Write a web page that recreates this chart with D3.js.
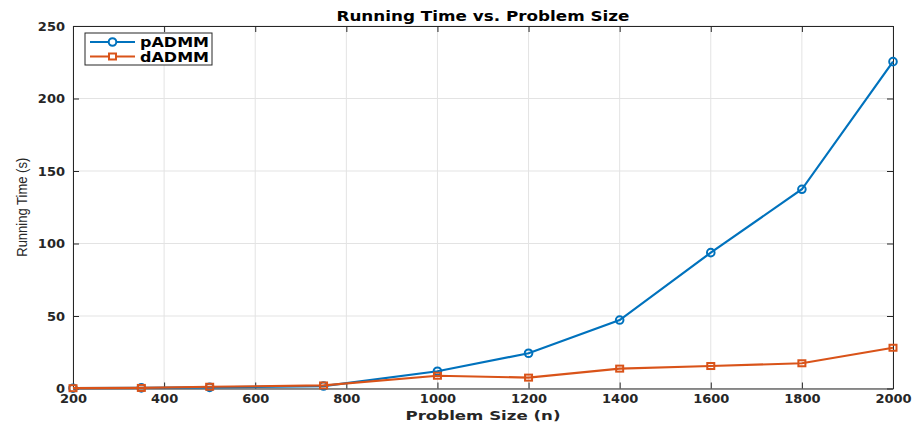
<!DOCTYPE html>
<html>
<head>
<meta charset="utf-8">
<script src="https://cdn.jsdelivr.net/npm/d3@7"></script>
<style>
  body { margin: 0; background: #fff; }
  text { font-family: "DejaVu Sans", "Liberation Sans", sans-serif; }
</style>
</head>
<body>
<div id="chart"></div>
<script>
var w = 914, h = 423;
var margin = { top: 26, right: 21, bottom: 34.5, left: 73 };

// Data
var sizes = [200, 350, 500, 750, 1000, 1200, 1400, 1600, 1800, 2000];
var pADMM = [0.2, 0.4, 0.8, 1.7, 11.9, 24.3, 47.2, 93.7, 137.4, 225.4];
var dADMM = [0.2, 0.4, 1.2, 2.1, 8.8, 7.5, 13.7, 15.5, 17.4, 28.1];
var xTicks = [200, 400, 600, 800, 1000, 1200, 1400, 1600, 1800, 2000];
var yTicks = [0, 50, 100, 150, 200, 250];

var series = [
  { name: "pADMM", values: pADMM, color: "#0072BD", marker: "circle" },
  { name: "dADMM", values: dADMM, color: "#D95319", marker: "square" }
];

var iw = w - margin.left - margin.right,
    ih = h - margin.top - margin.bottom;

var x = d3.scaleLinear().domain([200, 2000]).range([0, iw]);
var y = d3.scaleLinear().domain([0, 250]).range([ih, 0]);

var svg = d3.select("#chart")
  .append("svg")
  .attr("width", w)
  .attr("height", h);

var g = svg.append("g")
  .attr("transform", "translate(" + margin.left + "," + margin.top + ")");

// Grid
g.append("g")
  .selectAll("line")
  .data(xTicks)
  .enter().append("line")
  .attr("x1", function(d) { return x(d); })
  .attr("x2", function(d) { return x(d); })
  .attr("y1", 0).attr("y2", ih)
  .attr("stroke", "#e3e3e3").attr("stroke-width", 1);

g.append("g")
  .selectAll("line")
  .data(yTicks)
  .enter().append("line")
  .attr("y1", function(d) { return y(d); })
  .attr("y2", function(d) { return y(d); })
  .attr("x1", 0).attr("x2", iw)
  .attr("stroke", "#e3e3e3").attr("stroke-width", 1);

// Axes (ticks inward, box on all sides)
function styleAxis(sel) {
  sel.selectAll("path").attr("stroke", "#262626").attr("stroke-width", 1);
  sel.selectAll("line").attr("stroke", "#262626").attr("stroke-width", 1);
  sel.selectAll("text")
    .attr("fill", "#262626")
    .style("font-size", "13px")
    .style("font-weight", "bold");
}

g.append("g")
  .attr("transform", "translate(0," + ih + ")")
  .call(d3.axisBottom(x).tickValues(xTicks).tickFormat(d3.format("d"))
    .tickSize(-6).tickSizeOuter(0).tickPadding(5))
  .call(styleAxis);

g.append("g")
  .call(d3.axisTop(x).tickValues(xTicks).tickSize(-6).tickSizeOuter(0).tickFormat(""))
  .call(styleAxis);

g.append("g")
  .call(d3.axisLeft(y).tickValues(yTicks).tickFormat(d3.format("d"))
    .tickSize(-6).tickSizeOuter(0).tickPadding(8))
  .call(styleAxis);

g.append("g")
  .attr("transform", "translate(" + iw + ",0)")
  .call(d3.axisRight(y).tickValues(yTicks).tickSize(-6).tickSizeOuter(0).tickFormat(""))
  .call(styleAxis);

// Lines and markers
var line = d3.line()
  .x(function(d, i) { return x(sizes[i]); })
  .y(function(d) { return y(d); });

series.forEach(function(s) {
  g.append("path")
    .datum(s.values)
    .attr("d", line)
    .attr("fill", "none")
    .attr("stroke", s.color)
    .attr("stroke-width", 2.2);

  var m = g.append("g").selectAll("." + s.marker)
    .data(s.values)
    .enter();

  if (s.marker == "circle") {
    m.append("circle")
      .attr("cx", function(d, i) { return x(sizes[i]); })
      .attr("cy", function(d) { return y(d); })
      .attr("r", 3.8)
      .attr("fill", "none")
      .attr("stroke", s.color)
      .attr("stroke-width", 2);
  } else {
    m.append("rect")
      .attr("x", function(d, i) { return x(sizes[i]) - 3.5; })
      .attr("y", function(d) { return y(d) - 3; })
      .attr("width", 7).attr("height", 6)
      .attr("fill", "none")
      .attr("stroke", s.color)
      .attr("stroke-width", 2);
  }
});

// Legend
var legend = svg.append("g").attr("transform", "translate(85,33)");
legend.append("rect")
  .attr("width", 127).attr("height", 32)
  .attr("fill", "#fff")
  .attr("stroke", "#262626").attr("stroke-width", 1);

series.forEach(function(s, i) {
  var ly = 9 + i * 14.5;
  legend.append("line")
    .attr("x1", 5).attr("x2", 50)
    .attr("y1", ly).attr("y2", ly)
    .attr("stroke", s.color).attr("stroke-width", 2);
  if (s.marker == "circle") {
    legend.append("circle")
      .attr("cx", 27.5).attr("cy", ly).attr("r", 3.8)
      .attr("fill", "#fff").attr("stroke", s.color).attr("stroke-width", 2);
  } else {
    legend.append("rect")
      .attr("x", 24).attr("y", ly - 3).attr("width", 7).attr("height", 6)
      .attr("fill", "#fff").attr("stroke", s.color).attr("stroke-width", 2);
  }
  legend.append("text")
    .attr("x", 55).attr("y", ly + 5)
    .attr("fill", "#000")
    .attr("textLength", 69)
    .attr("lengthAdjust", "spacingAndGlyphs")
    .style("font-size", "13.5px")
    .style("font-weight", "bold")
    .text(s.name);
});

// Title and labels
svg.append("text")
  .attr("x", margin.left + iw / 2)
  .attr("y", 21)
  .attr("text-anchor", "middle")
  .attr("fill", "#000")
  .attr("textLength", 293)
  .attr("lengthAdjust", "spacingAndGlyphs")
  .style("font-size", "13.5px")
  .style("font-weight", "bold")
  .text("Running Time vs. Problem Size");

svg.append("text")
  .attr("x", margin.left + iw / 2)
  .attr("y", 420)
  .attr("text-anchor", "middle")
  .attr("fill", "#262626")
  .attr("textLength", 155)
  .attr("lengthAdjust", "spacingAndGlyphs")
  .style("font-size", "13px")
  .style("font-weight", "bold")
  .text("Problem Size (n)");

svg.append("text")
  .attr("transform", "translate(27," + (margin.top + ih / 2) + ") rotate(-90)")
  .attr("text-anchor", "middle")
  .attr("fill", "#262626")
  .attr("textLength", 99)
  .attr("lengthAdjust", "spacingAndGlyphs")
  .style("font-family", "'Liberation Sans', sans-serif")
  .style("font-size", "15px")
  .text("Running Time (s)");
</script>
</body>
</html>
